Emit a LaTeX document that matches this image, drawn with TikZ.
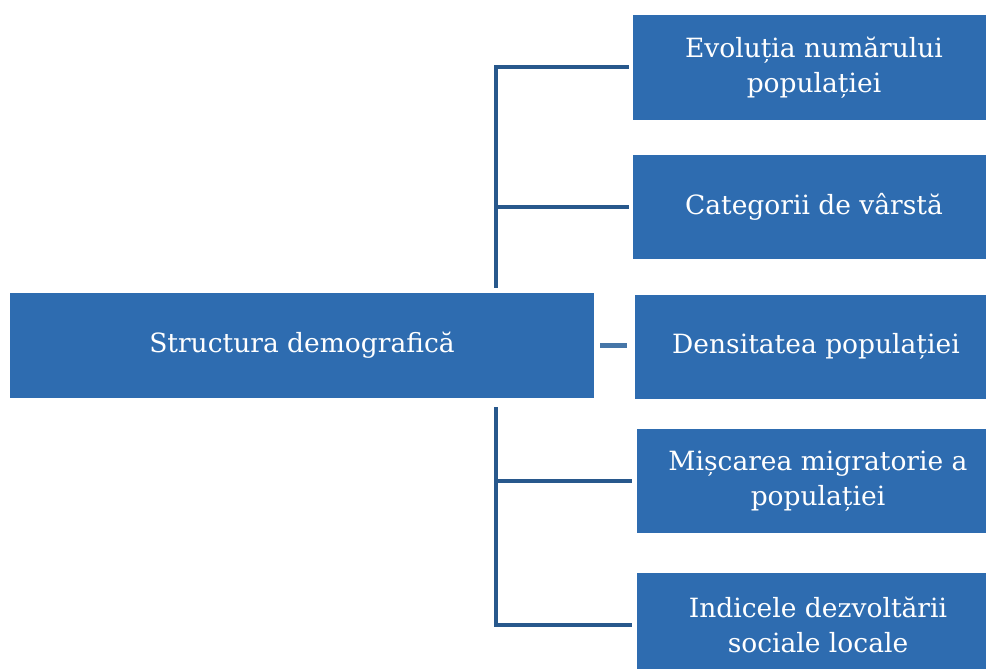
\documentclass[tikz,border=0pt]{standalone}
\usepackage{fontspec}
\setmainfont{DejaVu Serif}
\definecolor{boxblue}{RGB}{46,108,176}
\definecolor{linkblue}{RGB}{40,88,140}
\definecolor{dashblue}{RGB}{70,118,168}
\begin{document}
\begin{tikzpicture}[x=1pt,y=-1pt,
  box/.style={fill=boxblue, draw=none, text=white, align=center, minimum height=104pt,
    inner sep=0pt, font=\fontsize{26.5}{35}\selectfont},
  conn/.style={draw=linkblue, line width=4pt},
  mid/.style={draw=dashblue, line width=5pt}]
\useasboundingbox (0,0) rectangle (986,669);
\clip (0,0) rectangle (986,669);
\node[box, minimum width=584pt, minimum height=105pt] (m) at (302,345.5) {Structura demografică};
\node[box, minimum width=362pt] (b1) at (814,67.5) {Evoluția numărului\\populației};
\node[box, minimum width=362pt] (b2) at (814,206.5) {Categorii de vârstă};
\node[box, minimum width=362pt] (b3) at (816,346.5) {Densitatea populației};
\node[box, minimum width=362pt] (b4) at (818,481) {Mișcarea migratorie a\\populației};
\node[box, minimum width=362pt] (b5) at (818,625) {Indicele dezvoltării\\sociale locale};
\coordinate (tA) at (496,288);
\coordinate (tB) at (496,407);
\draw[conn, shorten <=4pt] (b1.west) -| (tA);
\draw[conn, shorten <=4pt] (b2.west) -- (b2.west -| tA);
\draw[conn, shorten <=5pt] (b5.west) -| (tB);
\draw[conn, shorten <=5pt] (b4.west) -- (b4.west -| tB);
\draw[mid, shorten <=6pt, shorten >=8pt] (m.east) -- (m.east -| b3.west);
\end{tikzpicture}
\end{document}
